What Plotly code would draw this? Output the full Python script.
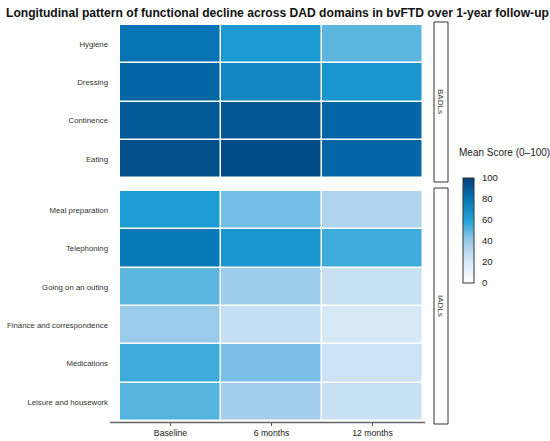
import plotly.graph_objects as go

# months of follow-up
timepoints = ["Baseline", "6 months", "12 months"]

badl_domains = ["Hygiene", "Dressing", "Continence", "Eating"]
badl_baseline = [80, 85, 90, 94]
badl_6m = [63, 72, 91, 95]
badl_12m = [50, 65, 85, 85]

iadl_domains = ["Meal preparation", "Telephoning", "Going on an outing",
                "Finance and correspondence", "Medications", "Leisure and housework"]
iadl_baseline = [62, 78, 50, 39, 55, 51]
iadl_6m = [46, 65, 38, 26, 45, 37]
iadl_12m = [33, 55, 25, 20, 24, 25]

W, H = 550, 441


def px(x):
    return x / W


def py(y):
    return 1 - y / H


blues = [[0, "#ffffff"], [0.2, "#d8e9f6"], [0.4, "#98c9ea"],
         [0.6, "#1fa2d6"], [0.8, "#0673b4"], [1, "#003f7a"]]

badl_z = [list(r) for r in zip(badl_baseline, badl_6m, badl_12m)]
iadl_z = [list(r) for r in zip(iadl_baseline, iadl_6m, iadl_12m)]

fig = go.Figure()
fig.add_trace(go.Heatmap(
    z=badl_z, x=timepoints, y=badl_domains, xaxis="x", yaxis="y",
    colorscale=blues, zmin=0, zmax=100, xgap=1.5, ygap=1.5,
    showscale=False, hovertemplate="%{y}<br>%{x}: %{z}<extra></extra>"))
fig.add_trace(go.Heatmap(
    z=iadl_z, x=timepoints, y=iadl_domains, xaxis="x", yaxis="y2",
    colorscale=blues, zmin=0, zmax=100, xgap=1.5, ygap=1.5,
    hovertemplate="%{y}<br>%{x}: %{z}<extra></extra>",
    colorbar=dict(x=px(463), xanchor="left", y=py(230.5), yanchor="middle",
                  len=105 / H, lenmode="fraction", thickness=11,
                  outlinecolor="#333", outlinewidth=1,
                  tickvals=[0, 20, 40, 60, 80, 100], ticks="outside",
                  ticklen=6, tickcolor="rgba(0,0,0,0)",
                  tickfont=dict(size=9.5, color="#222"), xpad=0, ypad=0)))

font_fam = "Liberation Sans, Arial, sans-serif"

fig.update_layout(
    width=W, height=H,
    margin=dict(l=0, r=0, t=0, b=0),
    paper_bgcolor="white", plot_bgcolor="white",
    font=dict(family=font_fam, color="#333"),
    showlegend=False,
    xaxis=dict(domain=[px(120), px(423)], anchor="y2", type="category",
               showgrid=False, zeroline=False, ticks="outside", ticklen=4,
               tickcolor="#555", tickfont=dict(size=8.7, color="#222"),
               automargin=False),
    yaxis=dict(domain=[py(178), py(25)], autorange="reversed", showgrid=False,
               zeroline=False, ticks="", tickfont=dict(size=7.8, color="#333"),
               ticklabelstandoff=11, automargin=False),
    yaxis2=dict(domain=[py(421), py(191)], autorange="reversed", showgrid=False,
                zeroline=False, ticks="", tickfont=dict(size=7.8, color="#333"),
                ticklabelstandoff=11, automargin=False),
)

# bottom axis line
fig.add_shape(type="line", xref="paper", yref="paper",
              x0=px(110), x1=px(425), y0=py(422.5), y1=py(422.5),
              line=dict(color="#666", width=1.5))

# facet strips
for (y0, y1, lab) in [(22, 182, "BADLs"), (188, 424, "IADLs")]:
    fig.add_shape(type="rect", xref="paper", yref="paper",
                  x0=px(434), x1=px(448), y0=py(y1), y1=py(y0),
                  line=dict(color="#333", width=1), fillcolor="white")
    fig.add_annotation(x=px(441), y=py((y0 + y1) / 2), xref="paper", yref="paper",
                       xanchor="center", yanchor="middle",
                       text=lab, textangle=90, showarrow=False,
                       font=dict(size=8, color="#333"))

fig.add_annotation(x=px(4), y=py(13), xref="paper", yref="paper",
                   xanchor="left", yanchor="middle", showarrow=False,
                   text="<b>Longitudinal pattern of functional decline across DAD domains in bvFTD over 1-year follow-up</b>",
                   font=dict(size=12.1, color="#111"))
fig.add_annotation(x=px(457), y=py(152), xref="paper", yref="paper",
                   xanchor="left", yanchor="middle", showarrow=False,
                   text="Mean Score (0–100)", font=dict(size=10, color="#222"))

fig.write_html("out.html", config={"displayModeBar": False},
               post_script="document.body.style.margin='0';")
